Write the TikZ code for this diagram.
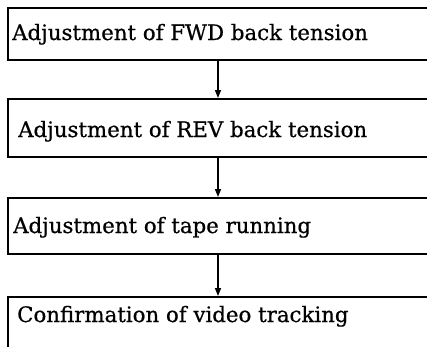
\documentclass[tikz,border=0pt]{standalone}
\usepackage{fontspec}
\setmainfont[FakeBold=0.6]{DejaVu Serif}
\usetikzlibrary{arrows.meta}
\begin{document}
\begin{tikzpicture}[x=1pt,y=-1pt,
  box/.style={draw=black, line width=1.5pt, rectangle, anchor=north west, inner sep=0pt},
  lbl/.style={anchor=base west, inner sep=0pt, font=\fontsize{21.3}{23}\selectfont},
  arr/.style={line width=1.5pt, -{Triangle[length=8pt,width=6pt]}}]
\useasboundingbox (0,0) rectangle (427,346);
\clip (0,0) rectangle (427,346);
\fill[white] (0,0) rectangle (427,346);
\node[box, minimum width=450pt, minimum height=52pt] (b1) at (7,7) {};
\node[box, minimum width=450pt, minimum height=58pt] (b2) at (7,98) {};
\node[box, minimum width=450pt, minimum height=56pt] (b3) at (7,197) {};
\node[box, minimum width=450pt, minimum height=80pt] (b4) at (7,296) {};
\node[lbl] (t1) at (12,40) {Adjustment of FWD back tension};
\node[lbl] (t2) at (18,137) {Adjustment of REV back tension};
\node[lbl] (t3) at (13,233) {Adjustment of tape running};
\node[lbl] (t4) at (17,322) {Confirmation of video tracking};
\coordinate (ax) at (218,0);
\draw[arr] (b1.south -| ax) -- (b2.north -| ax);
\draw[arr] (b2.south -| ax) -- (b3.north -| ax);
\draw[arr] (b3.south -| ax) -- (b4.north -| ax);
\end{tikzpicture}
\end{document}
